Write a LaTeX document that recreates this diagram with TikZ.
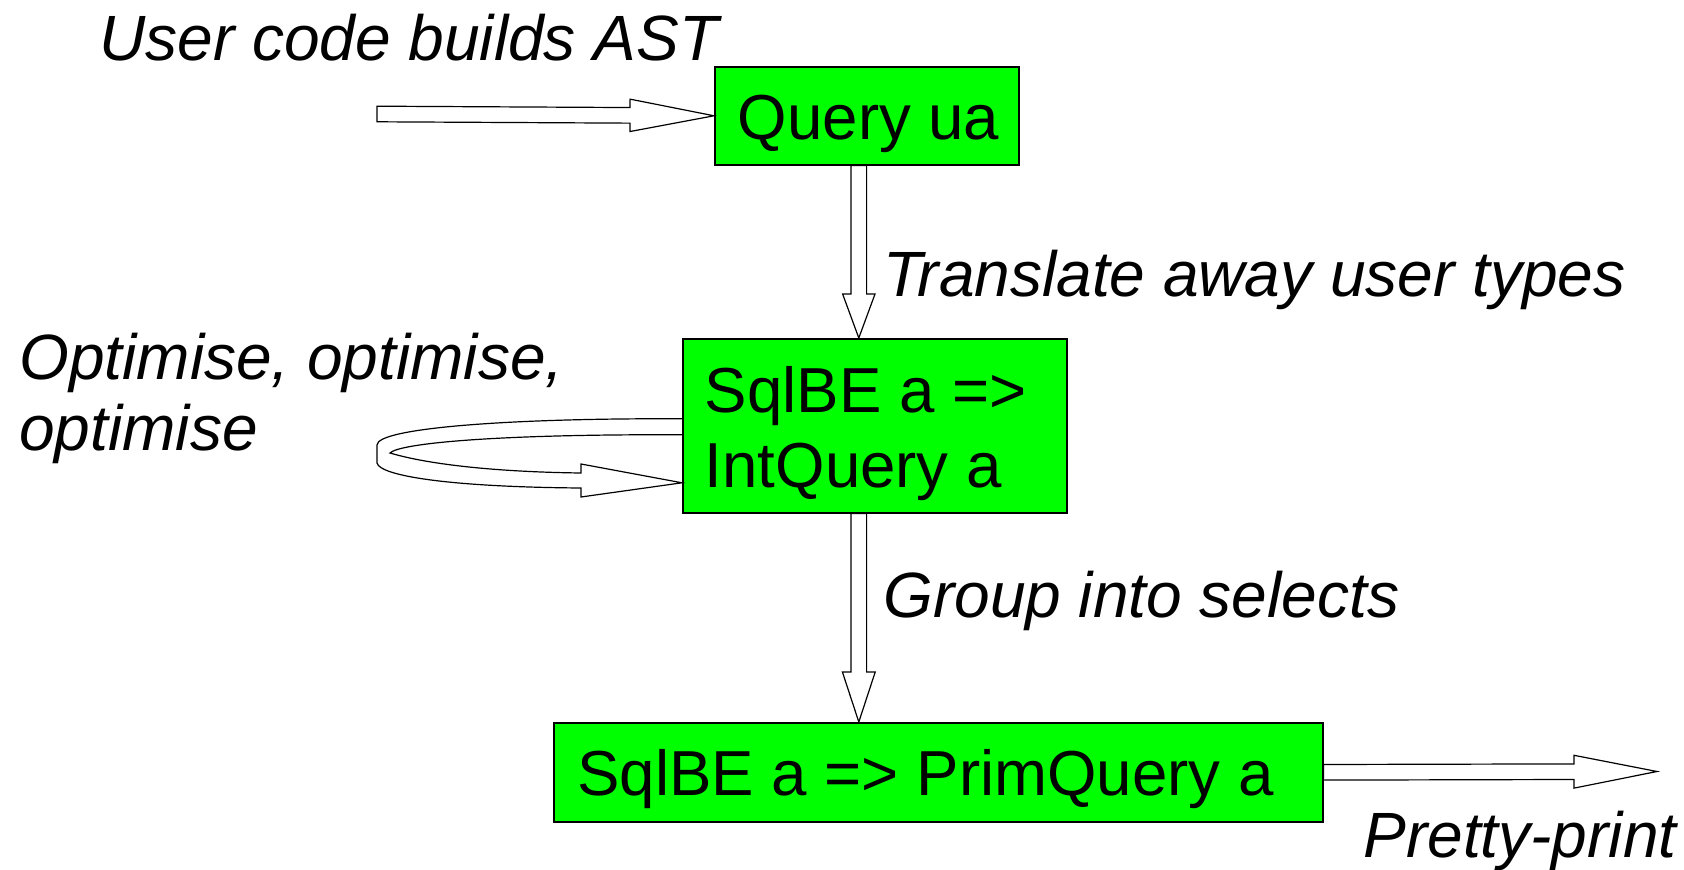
\documentclass[tikz,border=0pt]{standalone}
\usepackage{fontspec}
\setmainfont{Liberation Sans}
\usetikzlibrary{calc}
\definecolor{boxgreen}{RGB}{0,255,0}

% hollow block arrow: tail, tip, shaft half-width, head half-width, head length
\newcommand{\hollowarrow}[5]{%
  \coordinate (hb) at ($(#2)!#5!(#1)$);
  \draw[arrowline] ($(#1)!#3!90:(#2)$) -- ($(hb)!#3!-90:(#1)$)
    -- ($(hb)!#4!-90:(#1)$) -- (#2) -- ($(hb)!#4!90:(#1)$)
    -- ($(hb)!#3!90:(#1)$) -- ($(#1)!#3!-90:(#2)$) -- cycle;
}
% left-aligned box contents: width, left padding, lines
\newcommand{\boxlines}[3]{\parbox[t]{#1}{\fontsize{31.8}{37.5}\selectfont
  \raggedright\leftskip=#2\relax #3}}

\begin{document}
\begin{tikzpicture}[x=0.5pt, y=-0.5pt,
  arrowline/.style={draw=black, line width=0.6pt, line join=miter},
  box/.style={draw=black, fill=boxgreen, line width=0.8pt, inner sep=0pt,
    anchor=north west},
  lbl/.style={font=\itshape\fontsize{32}{37.5}\selectfont,
    anchor=base west, inner sep=0pt}]
\useasboundingbox (0,0) rectangle (1684,870);

% stages
\node[box, text height=36.5pt, text depth=12.5pt] (q) at (714,66)
  {\boxlines{152pt}{11.5pt}{Query ua}};
\node[box, text height=37pt, text depth=50pt] (s) at (682,338)
  {\boxlines{192pt}{11pt}{SqlBE a =>\\IntQuery a}};
\node[box, text height=36.5pt, text depth=13pt] (p) at (553,722)
  {\boxlines{384.5pt}{11.75pt}{SqlBE a => PrimQuery a}};

% captions
\node[lbl] (tbuild) at (99,61) {User code builds AST};
\node[lbl] (ttrans) at (883,297) {Translate away user types};
\node[lbl] (topt) at (19,380)
  {\parbox[t]{320pt}{\fontsize{32}{35.5}\selectfont Optimise, optimise,\\optimise}};
\node[lbl] (tgroup) at (883,617) {Group into selects};
\node[lbl] (tpretty) at (1363,857) {Pretty-print};

% straight block arrows
\coordinate (in) at (377,114);
\hollowarrow{in}{q.west}{3.9pt}{8.1pt}{42pt}

\coordinate (d1a) at ($(q.south)+(-8,0)$);
\coordinate (d1b) at (d1a |- s.north);
\hollowarrow{d1a}{d1b}{3.9pt}{8.1pt}{22pt}

\coordinate (d2a) at (d1a |- s.south);
\coordinate (d2b) at (d1a |- p.north);
\hollowarrow{d2a}{d2b}{3.9pt}{8.2pt}{25pt}

\coordinate (out) at (1657,771.5);
\hollowarrow{p.east}{out}{3.9pt}{8.2pt}{41.5pt}

% looping block arrow on the optimiser stage
\coordinate (lo) at ($(s.west)+(0,-7)$);
\coordinate (li) at ($(s.west)+(0,9)$);
\coordinate (lt) at ($(s.west)+(0,57)$);
\draw[arrowline] (lo) .. controls (510,418) and (377,428) .. (377,445)
  -- (377,463) .. controls (380,476) and (450,487) .. (581,488)
  -- (581,497) -- (lt) -- (581,464) -- (581,473)
  .. controls (500,472) and (430,465) .. (390,453)
  .. controls (400,443) and (500,434) .. (li);
\end{tikzpicture}
\end{document}
